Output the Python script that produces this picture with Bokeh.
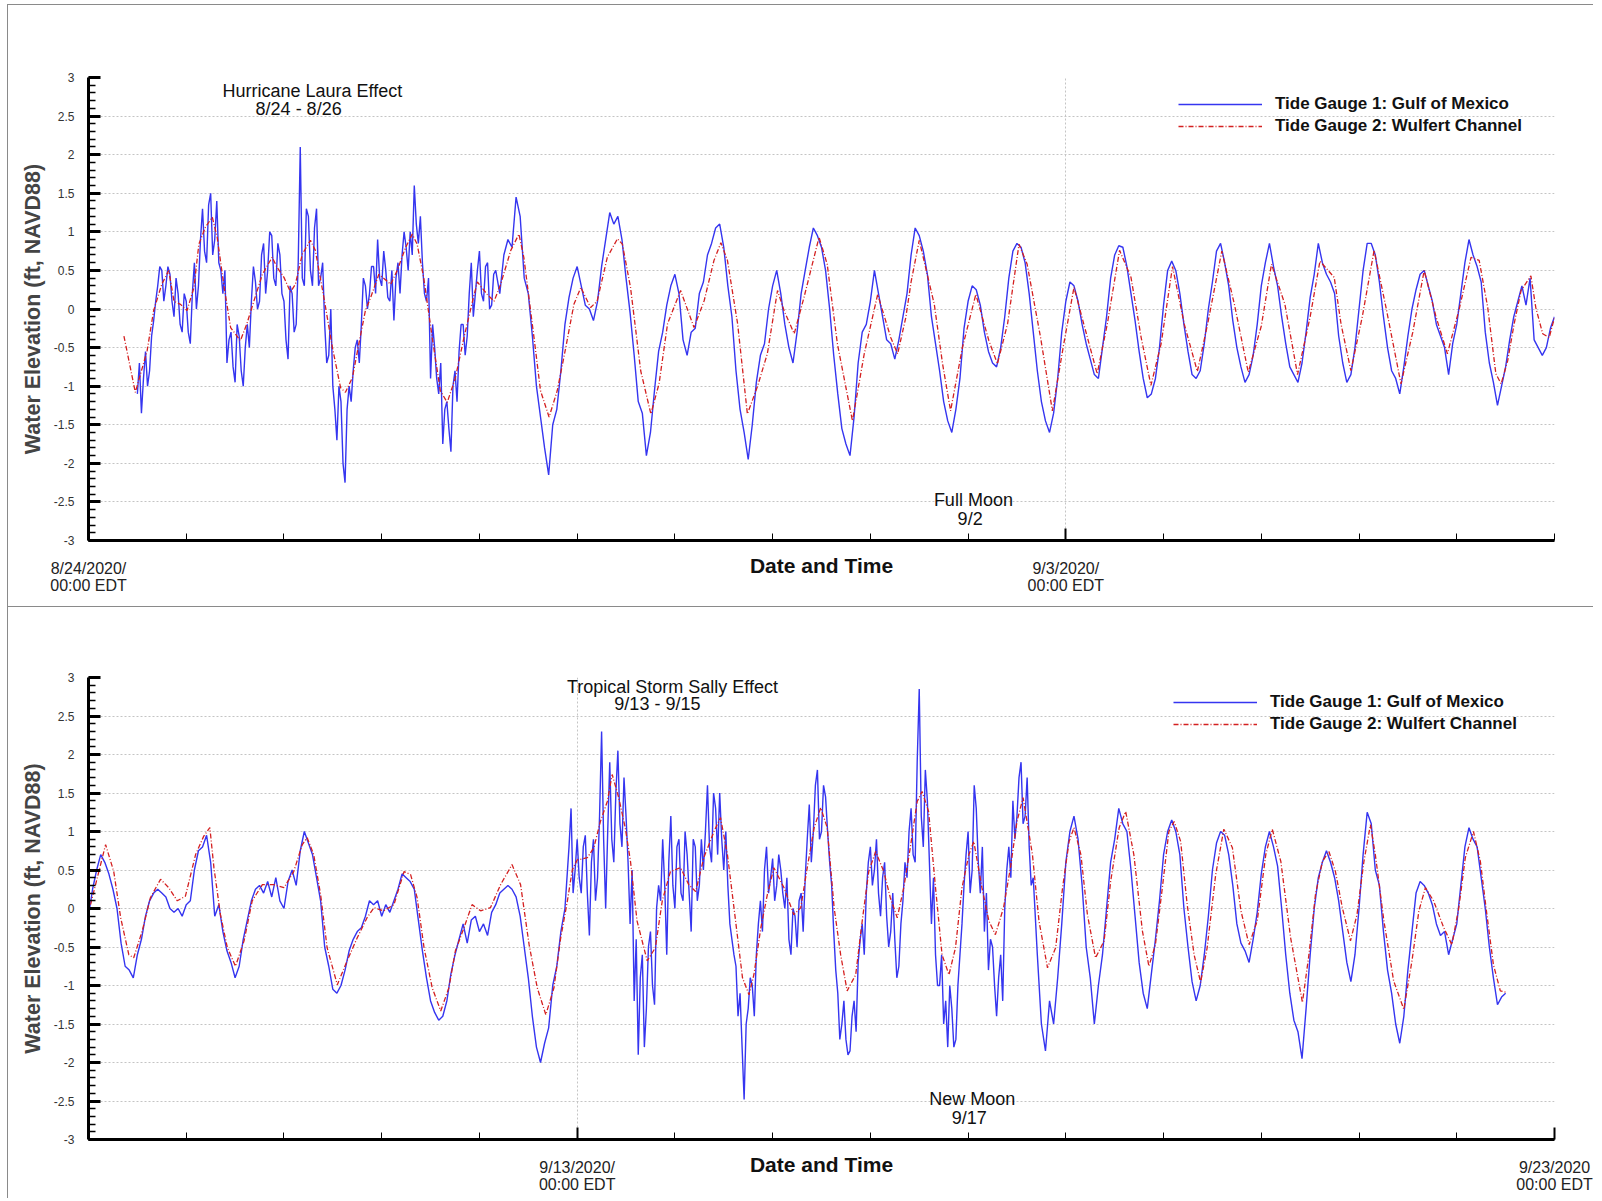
import json
import numpy as np
from bokeh.plotting import figure
from bokeh.models import (Range1d, FixedTicker, SingleIntervalTicker, Label, Legend,
                          LegendItem, CustomJSTickFormatter)
from bokeh.layouts import column
from bokeh.embed import file_html
from bokeh.resources import INLINE

FONT = "Liberation Sans"
BLUE = "#3535f0"
RED = "#d42020"

# ---------------- data (hours from panel start) ----------------
# Panel 1: 8/24/2020 00:00 EDT -> 9/8/2020 00:00 EDT
g1_top_start = 12  # first hourly sample of Gauge 1 (hour)
g1_top = [
    -1.1, -1.35, -0.55, -0.8, -0.15, 0.3, 0.5, 0.3, 0.45, -0.1, 0.2, -0.3,
    0.1, -0.45, 0.6, 0.3, 1.3, 0.6, 1.5, 0.9, 0.6, 0.2, -0.7, -0.3,
    -0.95, -0.35, -1.0, -0.2, 0.1, 0.35, 0.1, 0.85, 0.5, 0.95, 0.3, 0.7,
    0.1, -0.65, 0.2, -0.2, 2.1, 0.3, 1.2, 0.3, 1.3, 0.4, -0.2, -0.6,
    -1.0, -1.7, -1.2, -2.25, -1.0, -0.8, -0.4, -0.2, 0.3, 0.2, 0.55, 0.9,
    0.3, 0.5, 0.1, -0.15, 0.6, 0.7, 0.8, 1.0, 1.6, 0.85, 0.6, 0.1,
    -0.9, -0.5, -1.1, -1.75, -1.2, -1.85, -0.8, -0.55, -0.2, -0.35, 0.6, 0.2,
    0.75, 0.1, 0.6, 0.05, 0.5, 0.2, 0.7, 0.9, 0.8, 1.45, 1.2, 0.4,
    0.2, -0.35, -1.0, -1.4, -1.8, -2.15, -1.5, -1.3, -0.8, -0.2, 0.15, 0.4,
    0.55, 0.3, 0.05, 0.0, -0.15, 0.1, 0.55, 0.9, 1.25, 1.1, 1.2, 0.9,
    0.4, -0.05, -0.6, -1.2, -1.35, -1.9, -1.6, -1.05, -0.55, -0.3, 0.05, 0.3,
    0.45, 0.2, -0.4, -0.6, -0.3, -0.25, 0.2, 0.35, 0.7, 0.85, 1.05, 1.1,
    0.8, 0.3, -0.1, -0.8, -1.3, -1.6, -1.95, -1.5, -0.95, -0.6, -0.45, 0.0,
    0.3, 0.5, 0.2, -0.2, -0.5, -0.7, -0.3, 0.2, 0.5, 0.8, 1.05, 0.95,
    0.8, 0.5, 0.0, -0.6, -1.1, -1.55, -1.75, -1.9, -1.4, -0.7, -0.3, -0.2,
    0.1, 0.5, 0.2, -0.1, -0.4, -0.45, -0.65, -0.4, -0.1, 0.2, 0.7, 1.05,
    0.95, 0.75, 0.45, -0.1, -0.45, -0.8, -1.2, -1.45, -1.6, -1.3, -0.9, -0.25,
    0.1, 0.3, 0.25, 0.05, -0.3, -0.55, -0.7, -0.75, -0.5, -0.1, 0.4, 0.75,
    0.85, 0.8, 0.6, 0.2, -0.3, -0.8, -1.2, -1.45, -1.6, -1.35, -0.9, -0.3,
    0.1, 0.35, 0.3, 0.1, -0.2, -0.45, -0.65, -0.85, -0.9, -0.5, -0.1, 0.4,
    0.7, 0.82, 0.8, 0.55, 0.2, -0.15, -0.55, -0.9, -1.15, -1.1, -0.9, -0.5,
    0.05, 0.5, 0.62, 0.5, 0.2, -0.2, -0.55, -0.85, -0.9, -0.8, -0.45, 0.0,
    0.35, 0.75, 0.85, 0.6, 0.3, -0.15, -0.5, -0.75, -0.95, -0.85, -0.6, -0.2,
    0.3, 0.6, 0.85, 0.55, 0.3, -0.1, -0.45, -0.75, -0.85, -0.95, -0.7, -0.3,
    0.15, 0.45, 0.85, 0.6, 0.45, 0.35, 0.2, -0.35, -0.7, -0.95, -0.85, -0.5,
    0.0, 0.5, 0.85, 0.85, 0.7, 0.35, -0.1, -0.5, -0.8, -0.9, -1.1, -0.75,
    -0.35, 0.0, 0.25, 0.45, 0.5, 0.3, 0.1, -0.2, -0.35, -0.5, -0.85, -0.45,
    -0.2, 0.2, 0.6, 0.9, 0.7, 0.55, 0.35, -0.3, -0.7, -0.95, -1.25, -1.0,
    -0.75, -0.4, -0.1, 0.1, 0.3, 0.05, 0.4, -0.4, -0.5, -0.6, -0.5, -0.25, -0.1,
]
# extra half-hour samples of Gauge 1 during the Laura surge (hours 12.5 .. 99.5)
g1_top_half_start = 12.5
g1_top_half = [
    -0.7, -0.9, -1.0, -0.35, 0.1, 0.55, 0.1, 0.55,
    0.1, 0.4, -0.2, 0.2, -0.3, 0.2, 0.0, 0.9,
    0.75, 1.35, 0.7, 1.4, 0.5, 0.5, -0.4, -0.75,
    -0.2, -0.8, -0.5, -0.5, 0.55, 0.0, 0.7, 0.2,
    1.0, 0.4, 0.85, 0.2, -0.4, 0.3, -0.3, 0.6,
    0.4, 1.3, 0.5, 1.05, 0.3, 0.6, -0.7, 0.0,
    -1.3, -1.0, -2.0, -1.3, -1.2, -0.5, -0.7, 0.4,
    0.0, 0.55, 0.2, 0.4, 0.75, 0.15, 0.5, 0.4,
    0.2, 1.0, 0.5, 0.7, 1.1, 1.2, 0.2, 0.4,
    -0.2, -0.9, -0.7, -1.3, -1.55, -1.0, -1.2, -0.2,
    -0.6, 0.2, -0.1, 0.5, 0.2, 0.55, 0.0, 0.45,
]
g2_top_hours = [
    8.7, 11.5, 14.4, 16.0, 18.0, 19.7, 21.0, 22.6, 24.2, 25.9,
    27.1, 28.7, 30.4, 31.6, 33.2, 34.9, 37.3, 38.9, 40.6, 42.7,
    45.1, 46.3, 48.0, 49.6, 50.8, 52.5, 54.5, 55.7, 57.8, 59.9,
    61.9, 63.1, 64.8, 66.4, 68.0, 69.3, 71.3, 74.2, 75.8, 77.9,
    79.5, 80.7, 82.3, 84.4, 86.4, 88.1, 90.1, 92.2, 94.3, 95.5,
    97.9, 99.6, 101.2, 103.7, 105.7, 106.9, 109.4, 111.0, 113.1, 115.1,
    117.2, 119.2, 120.9, 123.3, 124.9, 127.4, 129.9, 131.1, 133.1, 135.6,
    138.1, 140.1, 142.2, 145.4, 148.7, 151.2, 153.6, 155.3, 156.9, 159.4,
    161.8, 164.3, 166.7, 169.2, 170.8, 173.3, 175.7, 179.4, 181.4, 183.9,
    187.6, 190.5, 193.8, 197.0, 198.7, 200.7, 202.0, 204.0, 207.7, 209.7,
    211.7, 214.6, 217.9, 221.1, 223.2, 225.7, 228.5, 230.5, 233.8, 236.7,
    239.5, 242.0, 245.3, 247.7, 250.2, 253.2, 256.0, 258.5, 260.9, 263.4,
    266.2, 269.1, 272.3, 274.8, 278.3, 281.4, 284.8, 288.0, 290.5, 293.8,
    296.9, 300.0, 302.4, 305.9, 307.6, 310.0, 312.8, 315.7, 318.7, 322.3,
    325.2, 328.0, 330.9, 333.7, 336.6, 339.5, 341.5, 343.6, 345.6, 346.9,
    348.5, 350.1, 351.8, 354.2, 355.4, 357.1, 358.7, 360.0,
]
g2_top = [
    -0.35, -1.08, -0.54, -0.02, 0.32, 0.50, 0.10, 0.06, -0.02, 0.28,
    0.84, 1.06, 1.19, 0.93, 0.32, -0.24, -0.41, -0.19, 0.10, 0.45,
    0.67, 0.54, 0.41, 0.22, 0.32, 0.71, 0.89, 0.76, 0.15, -0.50,
    -1.02, -1.08, -0.89, -0.45, -0.02, 0.15, 0.45, 0.32, 0.50, 0.80,
    0.97, 0.84, 0.41, -0.37, -1.06, -1.21, -0.89, -0.37, 0.10, 0.35,
    0.19, 0.10, 0.32, 0.76, 0.97, 0.67, -0.37, -1.06, -1.40, -1.06,
    -0.50, 0.06, 0.28, 0.02, 0.10, 0.67, 0.91, 0.84, 0.28, -0.80,
    -1.36, -0.97, -0.19, 0.24, -0.24, 0.11, 0.63, 0.86, 0.63, -0.19,
    -1.36, -1.00, -0.58, 0.24, -0.02, -0.32, 0.15, 0.93, 0.58, -0.45,
    -1.45, -0.58, 0.19, -0.37, -0.58, -0.11, 0.35, 0.89, 0.06, -0.70,
    -1.32, -0.50, 0.19, -0.41, -0.71, -0.19, 0.84, 0.58, -0.37, -1.32,
    -0.45, 0.28, -0.37, -0.84, -0.19, 0.76, 0.41, -0.37, -0.99, -0.45,
    0.55, -0.20, -0.81, -0.20, 0.75, 0.06, -0.82, -0.22, 0.58, 0.06,
    -0.85, -0.10, 0.62, 0.41, -0.20, -0.80, -0.10, 0.76, 0.00, -0.97,
    -0.30, 0.50, -0.10, -0.58, 0.00, 0.67, 0.63, 0.02, -0.84, -0.97,
    -0.67, -0.19, 0.24, 0.43, 0.02, -0.32, -0.37, -0.11,
]

# Panel 2: 9/8/2020 00:00 EDT -> 9/23/2020 00:00 EDT
g1_bot_start = 0
g1_bot = [
    -0.1, 0.25, 0.5, 0.7, 0.6, 0.45, 0.25, 0.0, -0.45, -0.75, -0.8, -0.9,
    -0.6, -0.4, -0.1, 0.1, 0.2, 0.25, 0.2, 0.15, 0.0, -0.05, 0.0, -0.1,
    0.05, 0.1, 0.5, 0.75, 0.8, 0.95, 0.6, -0.1, 0.05, -0.3, -0.55, -0.7,
    -0.9, -0.75, -0.4, -0.15, 0.1, 0.25, 0.3, 0.2, 0.35, 0.15, 0.4, 0.1,
    0.0, 0.35, 0.5, 0.3, 0.75, 1.0, 0.85, 0.7, 0.4, 0.1, -0.5, -0.75,
    -1.05, -1.1, -1.0, -0.8, -0.55, -0.4, -0.3, -0.25, -0.1, 0.1, 0.05, 0.1,
    -0.1, 0.05, -0.05, 0.1, 0.25, 0.45, 0.4, 0.35, 0.25, -0.15, -0.55, -0.9,
    -1.2, -1.35, -1.45, -1.4, -1.2, -0.85, -0.6, -0.4, -0.2, -0.45, -0.15, -0.1,
    -0.3, -0.2, -0.35, -0.05, 0.05, 0.2, 0.25, 0.3, 0.25, 0.15, -0.1, -0.5,
    -0.9, -1.4, -1.8, -2.0, -1.75, -1.55, -1.0, -0.75, -0.3, 0.0, 0.8, 0.2,
    0.9, 0.2, 0.95, -0.35, 0.9, 0.4, 2.3, 0.0, 1.9, 0.6, 2.05, 0.8,
    1.2, -0.2, -1.2, -1.9, -0.6, -1.3, -0.3, -1.25, 0.3, 0.9, -0.6, 1.2,
    0.0, 0.9, 0.1, 0.7, -0.3, 0.8, 0.3, 0.5, 1.6, 0.6, 1.3, 1.5,
    0.5, 0.3, -0.4, -0.75, -1.1, -2.48, -1.3, -1.0, -0.6, 0.1, 0.5, 0.2,
    0.65, 0.3, 0.5, 0.0, -0.4, 0.0, -0.5, 0.2, 0.4, 1.35, 1.0, 1.8,
    1.0, 1.45, 0.6, -0.3, -1.1, -1.5, -1.7, -1.85, -1.2, -0.7, -0.2, 0.2,
    0.8, 0.5, 0.2, 0.4, -0.1, -0.3, -0.4, -0.75, 0.1, 0.4, 1.3, 0.6,
    2.85, 0.8, 1.4, -0.2, -0.6, -1.0, -1.5, -1.8, -1.3, -1.7, -0.6, 0.3,
    1.0, 0.5, 1.3, 0.2, -0.3, -0.8, -0.5, -1.4, -0.6, 0.0, 0.8, 1.4,
    1.2, 1.9, 1.2, 0.8, 0.4, -0.6, -1.5, -1.85, -1.2, -1.5, -0.9, -0.2,
    0.6, 1.0, 1.2, 0.9, 0.3, -0.5, -0.9, -1.5, -1.0, -0.6, 0.0, 0.6,
    0.9, 1.3, 1.1, 1.0, 0.5, -0.1, -0.7, -1.1, -1.3, -0.85, -0.4, 0.1,
    0.7, 1.0, 1.15, 1.0, 0.7, 0.0, -0.5, -0.95, -1.2, -1.0, -0.6, -0.1,
    0.5, 0.85, 1.0, 0.95, 0.7, 0.3, -0.2, -0.45, -0.55, -0.7, -0.4, -0.05,
    0.45, 0.8, 1.0, 0.8, 0.55, 0.0, -0.6, -1.1, -1.45, -1.6, -1.95, -1.3,
    -0.6, 0.0, 0.4, 0.6, 0.75, 0.6, 0.4, 0.1, -0.3, -0.7, -0.95, -0.6,
    0.0, 0.7, 1.25, 1.1, 0.5, 0.3, -0.3, -0.8, -1.1, -1.5, -1.75, -1.4,
    -0.8, -0.3, 0.2, 0.35, 0.3, 0.2, 0.05, -0.2, -0.35, -0.3, -0.6, -0.4,
    -0.2, 0.3, 0.8, 1.05, 0.9, 0.8, 0.4, 0.0, -0.5, -0.9, -1.25, -1.15,
    -1.1,
]
# extra half-hour samples of Gauge 1 during the Sally surge (hours 118.5 .. 231.5)
g1_bot_half_start = 118.5
g1_bot_half = [
    1.3, 0.5, 0.4, 0.8, 0.2, 0.6, 0.1, 1.2,
    0.9, 1.0, 0.9, 1.5, 1.1, 1.7, 0.6, 0.5,
    -0.4, -0.9, -1.8, -0.5, -1.0, 0.0, 0.1, 0.3,
    0.6, 0.3, 0.8, 0.2, 1.0, 0.2, 0.9, 0.1,
    0.9, 1.0, 0.8, 1.5, 0.7, 0.9, 1.0, -0.2,
    -0.6, -1.4, -1.8, -1.5, -0.9, -1.4, -0.2, -0.3,
    0.8, 0.4, 0.1, 0.7, 0.2, 0.4, -0.6, -0.1,
    0.1, -0.3, 0.9, 0.6, 1.6, 0.9, 1.6, 1.0,
    0.3, -0.8, -1.7, -1.2, -1.9, -1.4, -1.6, -0.4,
    -0.6, 0.6, 0.3, 0.9, -0.1, 0.6, -0.5, 0.2,
    -0.9, -0.2, 0.6, 1.0, 0.7, 1.9, 1.2, 1.8,
    0.6, 0.4, -1.0, -0.6, -1.2, -1.0, -1.8, -1.0,
    -0.2, 0.7, 0.2, 1.6, 0.6, 0.8, 0.2, -0.4,
    -1.0, -0.9, -1.2, 0.5, 0.4, 0.9, 1.7, 1.1,
    1.7, 0.3,
]
g2_bot_hours = [
    0.5, 4.2, 6.2, 7.9, 9.9, 11.1, 13.2, 15.2, 17.7, 19.7,
    21.8, 23.8, 26.3, 28.3, 29.8, 30.8, 32.4, 34.1, 36.1, 38.2,
    40.2, 42.7, 45.5, 48.0, 50.4, 52.5, 53.7, 55.3, 57.0, 58.6,
    61.1, 63.5, 66.0, 68.4, 70.1, 72.5, 75.0, 77.5, 79.1, 80.7,
    82.4, 84.4, 86.5, 88.5, 90.1, 92.2, 94.2, 96.3, 98.7, 101.2,
    104.0, 106.1, 108.2, 110.2, 112.3, 114.3, 115.9, 117.6, 118.8, 120.0,
    122.5, 124.1, 125.7, 127.4, 128.6, 130.2, 131.8, 133.1, 134.7, 137.2,
    139.2, 140.9, 142.9, 145.4, 147.4, 149.1, 151.1, 153.6, 155.2, 156.9,
    158.9, 160.6, 162.2, 163.4, 165.1, 166.7, 168.3, 170.8, 173.2, 174.9,
    176.5, 178.2, 179.8, 181.4, 183.1, 184.7, 186.3, 188.4, 190.0, 191.6,
    193.3, 195.3, 196.9, 198.6, 200.2, 201.8, 203.5, 204.7, 206.3, 208.0,
    209.6, 211.3, 212.9, 214.5, 216.2, 217.4, 219.4, 221.1, 222.7, 224.7,
    226.4, 228.0, 229.5, 231.8, 233.4, 235.5, 237.5, 239.2, 240.8, 242.0,
    243.7, 245.3, 247.3, 249.4, 251.0, 253.1, 254.7, 256.7, 258.8, 260.4,
    262.0, 263.7, 265.3, 266.6, 268.2, 269.8, 271.5, 273.1, 274.7, 276.8,
    278.8, 280.9, 283.0, 285.0, 287.0, 289.1, 290.7, 292.8, 295.2, 298.1,
    299.7, 301.3, 303.0, 304.6, 306.2, 307.9, 309.9, 311.5, 313.2, 314.8,
    316.0, 318.1, 320.5, 323.0, 325.0, 326.7, 328.3, 330.3, 332.8, 334.8,
    336.5, 338.1, 340.1, 341.8, 343.4, 345.0, 346.7, 348.3,
]
g2_bot = [
    0.05, 0.83, 0.48, -0.12, -0.60, -0.64, -0.29, 0.14, 0.38, 0.27,
    0.10, 0.16, 0.70, 0.94, 1.05, 0.53, -0.08, -0.51, -0.75, -0.42,
    0.10, 0.31, 0.31, 0.27, 0.48, 0.83, 0.92, 0.70, 0.18, -0.51,
    -0.99, -0.68, -0.38, -0.12, 0.01, -0.03, 0.05, 0.48, 0.44, 0.14,
    -0.51, -1.03, -1.33, -1.03, -0.55, -0.25, 0.05, -0.03, 0.01, 0.31,
    0.57, 0.31, -0.47, -1.03, -1.38, -1.03, -0.40, 0.10, 0.50, 0.63,
    0.66, 0.79, 1.13, 1.39, 1.74, 1.44, 1.05, 0.61, -0.16, -0.68,
    -0.51, 0.10, 0.48, 0.53, 0.31, 0.22, 0.66, 1.00, 1.18, 0.70,
    -0.16, -0.90, -1.12, -0.86, -0.25, 0.18, 0.53, 0.27, -0.08, 0.01,
    0.53, 1.05, 1.31, 1.05, 0.01, -0.60, -1.07, -0.86, -0.16, 0.48,
    0.74, 0.48, 0.14, -0.12, 0.27, 0.79, 1.39, 1.52, 1.26, 0.27,
    -0.60, -0.86, -0.51, 0.27, 0.70, 0.87, 0.27, -0.16, -0.34, 0.01,
    0.53, 1.13, 1.44, 0.70, -0.16, -0.77, -0.51, 0.27, 0.87, 1.05,
    0.70, -0.08, -0.64, -0.42, 0.35, 1.05, 1.26, 0.70, -0.29, -0.75,
    -0.47, 0.27, 1.00, 1.13, 0.87, 0.05, -0.60, -0.96, -0.51, 0.44,
    1.03, 0.79, -0.03, -0.47, -0.16, 0.70, 1.03, 0.61, -0.38, -1.22,
    -0.60, 0.18, 0.61, 0.74, 0.48, 0.01, -0.42, -0.08, 0.61, 1.09,
    0.70, -0.16, -0.94, -1.31, -0.68, -0.03, 0.27, 0.10, -0.25, -0.47,
    0.01, 0.66, 1.00, 0.61, -0.08, -0.73, -1.07, -1.09,
]

legend_labels = ["Tide Gauge 1: Gulf of Mexico", "Tide Gauge 2: Wulfert Channel"]
y_label = "Water Elevation (ft, NAVD88)"
x_label = "Date and Time"
top_tick_hours = [0, 240]
top_tick_labels = ["8/24/2020/\n00:00 EDT", "9/3/2020/\n00:00 EDT"]
bot_tick_hours = [120, 360]
bot_tick_labels = ["9/13/2020/\n00:00 EDT", "9/23/2020\n00:00 EDT"]
day_hours = list(range(0, 361, 24))

assert len(g2_top_hours) == len(g2_top)
assert len(g2_bot_hours) == len(g2_bot)
assert len(g1_top_half) == 88 and len(g1_bot_half) == 114


def merge_samples(start, vals, half_start, half_vals):
    x = np.concatenate([np.arange(len(vals)) + start,
                        np.arange(len(half_vals)) + half_start])
    y = np.concatenate([np.asarray(vals, float), np.asarray(half_vals, float)])
    order = np.argsort(x)
    return x[order], y[order]


def make_panel(height, b_top, b_bottom, g1_x, g1_y, g2_h, g2_v,
               major_x, major_lbls, notes, legend_loc):
    p = figure(width=1586, height=height, x_range=Range1d(0, 360),
               y_range=Range1d(-3, 3), output_backend="svg",
               toolbar_location=None, min_border_left=80, min_border_right=40,
               min_border_top=b_top, min_border_bottom=b_bottom)
    p.outline_line_color = None
    p.background_fill_color = "white"
    p.border_fill_color = "white"

    # y axis
    yax = p.yaxis[0]
    yax.ticker = SingleIntervalTicker(interval=0.5, num_minor_ticks=5)
    yax.formatter = CustomJSTickFormatter(code="return String(Math.round(tick*10)/10);")
    yax.axis_line_width = 3
    yax.major_tick_in = 12
    yax.major_tick_out = 0
    yax.minor_tick_in = 7
    yax.minor_tick_out = 0
    yax.major_tick_line_width = 3
    yax.minor_tick_line_width = 1.5
    yax.major_label_text_font = FONT
    yax.major_label_text_font_size = "12px"
    yax.major_label_text_color = "#333333"
    yax.major_label_standoff = 14
    yax.axis_label = y_label
    yax.axis_label_text_font = FONT
    yax.axis_label_text_font_style = "bold"
    yax.axis_label_text_font_size = "21.5px"
    yax.axis_label_standoff = 6

    # x axis: date labels only at the major ticks, day minor ticks
    xax = p.xaxis[0]
    xax.ticker = FixedTicker(ticks=major_x, minor_ticks=day_hours)
    code = ("const t = %s; const l = %s; const i = t.indexOf(Math.round(tick));"
            " return i >= 0 ? l[i] : '';" % (json.dumps(major_x), json.dumps(major_lbls)))
    xax.formatter = CustomJSTickFormatter(code=code)
    xax.axis_line_width = 3
    xax.major_tick_in = 12
    xax.major_tick_out = 0
    xax.minor_tick_in = 7
    xax.minor_tick_out = 0
    xax.major_tick_line_width = 2
    xax.minor_tick_line_width = 1
    xax.major_label_text_font = FONT
    xax.major_label_text_font_size = "16px"
    xax.major_label_text_line_height = 1.05
    xax.major_label_text_color = "#222222"
    xax.major_label_standoff = 19
    xax.axis_label = x_label
    xax.axis_label_text_font = FONT
    xax.axis_label_text_font_style = "bold"
    xax.axis_label_text_font_size = "21px"
    xax.axis_label_text_color = "#111111"
    xax.axis_label_standoff = -43

    # grids
    p.ygrid.ticker = SingleIntervalTicker(interval=0.5)
    p.xgrid.ticker = FixedTicker(ticks=major_x)
    for g in (p.xgrid[0], p.ygrid[0]):
        g.grid_line_color = "#c4c4c4"
        g.grid_line_dash = "2 2"
        g.grid_line_width = 1

    # series
    rb = p.line(g1_x, g1_y, line_color=BLUE, line_width=1.4)
    rr = p.line(g2_h, g2_v, line_color=RED, line_width=1.3, line_dash="5 2 1 2")

    leg = Legend(items=[LegendItem(label=legend_labels[0], renderers=[rb]),
                        LegendItem(label=legend_labels[1], renderers=[rr])],
                 location=legend_loc, orientation="vertical",
                 border_line_color=None, background_fill_alpha=0,
                 padding=0, margin=0, spacing=2, glyph_width=84,
                 glyph_height=20, label_height=20, label_standoff=13,
                 label_text_font=FONT, label_text_font_style="bold",
                 label_text_font_size="17px", label_text_color="#111111")
    p.add_layout(leg)

    # notes inside plot
    for (xh, yv, txt) in notes:
        p.add_layout(Label(x=xh, y=yv, text=txt, text_font=FONT,
                           text_font_size="18px", text_align="center",
                           text_baseline="middle", text_color="#111111"))
    return p


top_notes = [(54.95, 2.83, "Hurricane Laura Effect"), (51.6, 2.59, "8/24 - 8/26"),
             (217.3, -2.48, "Full Moon"), (216.5, -2.72, "9/2")]
bot_notes = [(143.4, 2.88, "Tropical Storm Sally Effect"), (139.7, 2.65, "9/13 - 9/15"),
             (217.0, -2.48, "New Moon"), (216.3, -2.72, "9/17")]

t1x, t1y = merge_samples(g1_top_start, g1_top, g1_top_half_start, g1_top_half)
b1x, b1y = merge_samples(g1_bot_start, g1_bot, g1_bot_half_start, g1_bot_half)

p1 = make_panel(602, 72, 67, t1x, t1y, g2_top_hours, g2_top,
                top_tick_hours, top_tick_labels, top_notes, (1090, 404))
p2 = make_panel(592, 70, 60, b1x, b1y, g2_bot_hours, g2_bot,
                bot_tick_hours, bot_tick_labels, bot_notes, (1085, 405))

p1.styles = {"margin-left": "7px", "margin-top": "4px",
             "border-top": "1px solid #8a8a8a", "border-left": "1px solid #8a8a8a"}
p2.styles = {"margin-left": "7px",
             "border-top": "1px solid #8a8a8a", "border-left": "1px solid #8a8a8a"}

layout = column(p1, p2, spacing=0)
open("out.html", "w").write(file_html(layout, INLINE))
